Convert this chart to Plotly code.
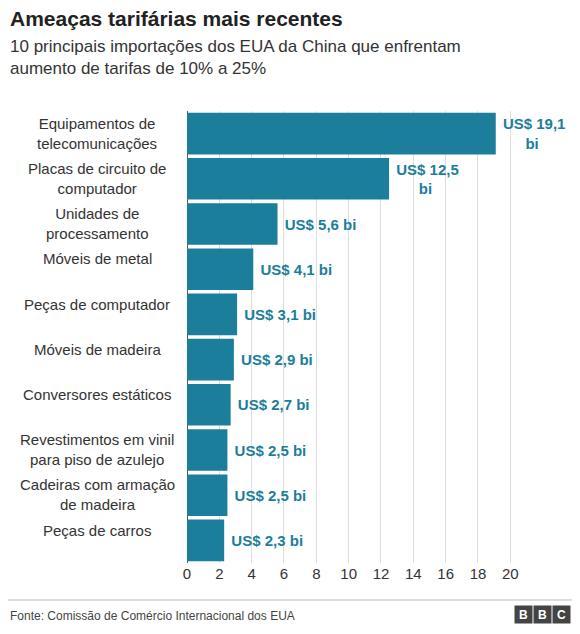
import plotly.graph_objects as go

categories = ["Equipamentos de<br>telecomunicações", "Placas de circuito de<br>computador",
              "Unidades de<br>processamento", "Móveis de metal", "Peças de computador",
              "Móveis de madeira", "Conversores estáticos",
              "Revestimentos em vinil<br>para piso de azulejo", "Cadeiras com armação<br>de madeira",
              "Peças de carros"]
values = [19.1, 12.5, 5.6, 4.1, 3.1, 2.9, 2.7, 2.5, 2.5, 2.3]
labels = ["US$ 19,1<br>bi", "US$ 12,5<br>bi", "US$ 5,6 bi", "US$ 4,1 bi", "US$ 3,1 bi",
          "US$ 2,9 bi", "US$ 2,7 bi", "US$ 2,5 bi", "US$ 2,5 bi", "US$ 2,3 bi"]
ticks = list(range(0, 21, 2))

OFF = 8  # page body margin
W, H = 580 - 2 * OFF, 634 - 2 * OFF
L, T = 187 - OFF, 111 - OFF
R = W - (520 - OFF)
B = H - (563 - OFF)
color = "#1b7e9b"
idx = list(range(len(categories)))

fig = go.Figure(go.Bar(
    x=values, y=idx, orientation="h", marker=dict(color=color, line=dict(width=0)),
    text=labels, textposition="outside", cliponaxis=False, width=0.92,
    textfont=dict(family="Liberation Sans", size=15, color=color),
    texttemplate="<b> %{text}</b>", hoverinfo="skip"))

fig.update_layout(
    width=W, height=H, margin=dict(l=L, r=R, t=T, b=B, autoexpand=False),
    paper_bgcolor="white", plot_bgcolor="white", showlegend=False,
    font=dict(family="Liberation Sans", color="#222"),
    xaxis=dict(range=[0, 20.6], tickvals=ticks, showgrid=True, gridcolor="#dddddd",
               zeroline=True, zerolinecolor="#555", zerolinewidth=1, ticks="",
               tickfont=dict(size=15, color="#333"), fixedrange=True, automargin=False),
    yaxis=dict(range=[9.5, -0.5], showticklabels=False, ticks="", showgrid=False,
               zeroline=False, automargin=False),
)

def px(x, y):
    # screen coordinates -> paper
    x -= OFF; y -= OFF
    return (x - L) / (W - L - R), (H - y - B) / (H - T - B)

for i, c in enumerate(categories):
    fig.add_annotation(text=c, xref="paper", yref="y", x=px(97, 0)[0], y=i - 0.46,
                       xanchor="center", yanchor="top", showarrow=False, align="center",
                       font=dict(family="Liberation Sans", size=15, color="#333"))

ann = [
    dict(text="<b>Ameaças tarifárias mais recentes</b>", x=8, y=5, size=21, color="#222"),
    dict(text="10 principais importações dos EUA da China que enfrentam<br>aumento de tarifas de 10% a 25%",
         x=8, y=35, size=17, color="#333"),
    dict(text="Fonte: Comissão de Comércio Internacional dos EUA", x=8, y=607, size=12, color="#444"),
]
for a in ann:
    ax, ay = px(a["x"], a["y"])
    fig.add_annotation(text=a["text"], xref="paper", yref="paper", x=ax, y=ay,
                       xanchor="left", yanchor="top", showarrow=False, align="left",
                       font=dict(family="Liberation Sans", size=a["size"], color=a["color"]))

x0, y0 = px(8, 600); x1, _ = px(572, 600)
fig.add_shape(type="line", xref="paper", yref="paper", x0=x0, x1=x1, y0=y0, y1=y0,
              line=dict(color="#bbbbbb", width=1))
for i, ch in enumerate("BBC"):
    cx, cy = px(523 + i * 19, 614)
    fig.add_annotation(text="<b>%s</b>" % ch, xref="paper", yref="paper",
                       x=cx, y=cy, xanchor="center", yanchor="middle", showarrow=False,
                       width=17, height=17, bgcolor="#444", borderpad=0,
                       font=dict(family="Liberation Sans", size=12, color="white"))

fig.write_html("out.html")
